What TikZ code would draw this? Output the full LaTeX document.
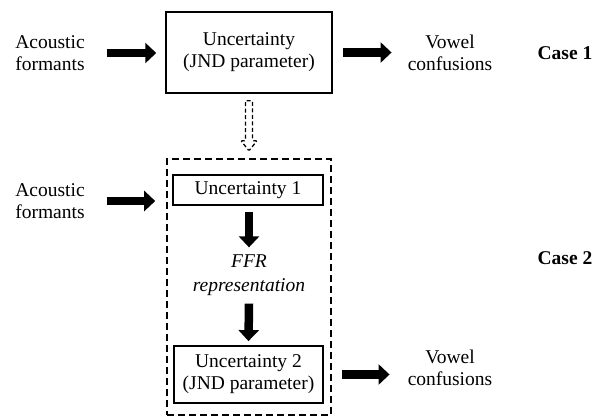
\documentclass[tikz,border=0pt]{standalone}
\usepackage{fontspec}
\setmainfont{Liberation Serif}
\usepackage{tikz}
\usetikzlibrary{positioning,arrows.meta,calc}
\definecolor{LineBlack}{RGB}{0,0,0}

\begin{document}
\begin{tikzpicture}[
    x=1pt, y=-1pt,
    txt/.style={font=\fontsize{19.5}{22}\selectfont, align=center, inner sep=0pt},
    box/.style={txt, draw=LineBlack, line width=1.5pt},
    fat/.style={line width=8.5pt, -{Triangle[width=20pt,length=11pt]}},
    dashline/.style={line width=1.6pt, dash pattern=on 7pt off 4pt},
]
\useasboundingbox (0,0) rectangle (603,416);

% case 1
\node[box, minimum width=166, minimum height=81] (top) at (249,52.5) {Uncertainty\\(JND parameter)};
\node[txt] (in1) at (50,53) {Acoustic\\formants};
\node[txt] (out1) at (450,53) {Vowel\\confusions};
\node[txt, font=\fontsize{19.5}{22}\selectfont\bfseries] (case1) at (565,53) {Case 1};
\draw[fat, shorten <=22.5pt, shorten >=9pt] (in1.east) -- (in1.east -| top.west);
\draw[fat, shorten <=10pt, shorten >=16pt] (top.east) -- (top.east -| out1.west);

% case 2
\node[draw=LineBlack, dashline, minimum width=164, minimum height=256] (grp) at (249,287) {};
\node[box, line width=1.8pt, minimum width=150, minimum height=30] (u1) at (248,190) {Uncertainty 1};
\node[txt, font=\fontsize{19.5}{24}\selectfont\itshape] (ffr) at (249,275) {FFR\\representation};
\node[box, line width=1.8pt, minimum width=149, minimum height=57] (u2) at (248.5,374.5) {Uncertainty 2\\(JND parameter)};
\node[txt] (in2) at (50,201) {Acoustic\\formants};
\node[txt] (out2) at (450,368) {Vowel\\confusions};
\node[txt, font=\fontsize{19.5}{22}\selectfont\bfseries] (case2) at (565,258) {Case 2};
\draw[fat, shorten <=22.5pt, shorten >=11pt] (in2.east) -- (in2.east -| grp.west);
\draw[fat, shorten <=6pt] (u1.south -| ffr.north) -- ($(ffr.north)+(0,-7)$);
\draw[fat] ($(ffr.south)+(0,8)$) -- ($(u2.north)+(0,-4)$);
\draw[fat, shorten <=18pt, shorten >=18pt] (u2.east) -- (u2.east -| out2.west);

% hollow link
\draw[dashline, line width=1.3pt, dash pattern=on 4pt off 2.5pt, rounded corners=1pt]
    ($(top.south)+(-3.5,7)$) -- ++(7,0) -- ++(0,40) -- ++(4.5,0)
    -- ($(top.south)+(0,57)$) -- ($(top.south)+(-8,47)$) -- ++(4.5,0) -- cycle;
\end{tikzpicture}
\end{document}
